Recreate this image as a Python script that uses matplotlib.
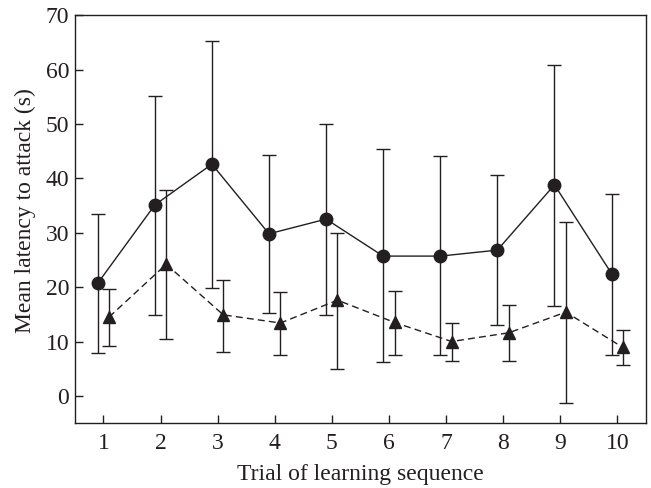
"""
 Title:         Latency plot
 Description:   Mean latency to attack across trials of learning sequence
"""

# Libraries
import numpy as np
import matplotlib
matplotlib.use("Agg")
import matplotlib.pyplot as plt

# Data
trials = [1, 2, 3, 4, 5, 6, 7, 8, 9, 10]

circle_mean  = [20.7, 35.1, 42.6, 29.8, 32.5, 25.7, 25.7, 26.8, 38.8, 22.5]
circle_upper = [33.5, 55.2, 65.3, 44.3, 49.9, 45.3, 44.1, 40.6, 60.9, 37.2]
circle_lower = [7.8, 14.9, 19.8, 15.3, 14.9, 6.2, 7.6, 13.0, 16.6, 7.6]

triangle_mean  = [14.5, 24.2, 14.9, 13.4, 17.6, 13.5, 10.0, 11.6, 15.4, 8.9]
triangle_upper = [19.6, 37.8, 21.3, 19.1, 30.0, 19.3, 13.4, 16.7, 31.9, 12.1]
triangle_lower = [9.1, 10.4, 8.1, 7.6, 4.9, 7.6, 6.5, 6.5, -1.3, 5.6]

y_ticks = [0, 10, 20, 30, 40, 50, 60, 70]

# Styling
ink = "#231f20"
plt.rcParams["font.family"] = ["Liberation Serif", "DejaVu Serif"]
plt.rcParams["font.size"] = 17

fig = plt.figure(figsize=(6.51, 4.88), dpi=100)
ax = fig.add_axes([0.115, 0.133, 0.877, 0.836])

x = np.array(trials)

# Solid series with circles
ax.errorbar(x - 0.1, circle_mean,
            yerr=[np.array(circle_mean) - np.array(circle_lower),
                  np.array(circle_upper) - np.array(circle_mean)],
            fmt="o", linestyle="-", color=ink, markersize=9, linewidth=1.0,
            elinewidth=1.0, capsize=4.8, capthick=1.0)

# Dashed series with triangles
line = ax.errorbar(x + 0.1, triangle_mean,
                   yerr=[np.array(triangle_mean) - np.array(triangle_lower),
                         np.array(triangle_upper) - np.array(triangle_mean)],
                   fmt="^", linestyle="--", color=ink, markersize=8.5, linewidth=1.0,
                   elinewidth=1.0, capsize=4.8, capthick=1.0)
line[0].set_dashes((5, 3))

# Format axes
ax.set_xlim(0.5, 10.5)
ax.set_ylim(-5, 70)
ax.set_xticks(trials)
ax.set_yticks(y_ticks)
ax.tick_params(direction="in", length=6, width=1.0, color=ink, labelcolor=ink,
               top=False, right=False)
ax.tick_params(axis="y", pad=4)
ax.tick_params(axis="x", pad=7)
for spine in ax.spines.values():
    spine.set_linewidth(1.0)
    spine.set_color(ink)
ax.set_xlabel("Trial of learning sequence", color=ink, labelpad=7)
ax.set_ylabel("Mean latency to attack (s)", color=ink)
ax.yaxis.set_label_coords(-0.068, 0.522)

plt.savefig("out.png", dpi=100)
plt.close()
